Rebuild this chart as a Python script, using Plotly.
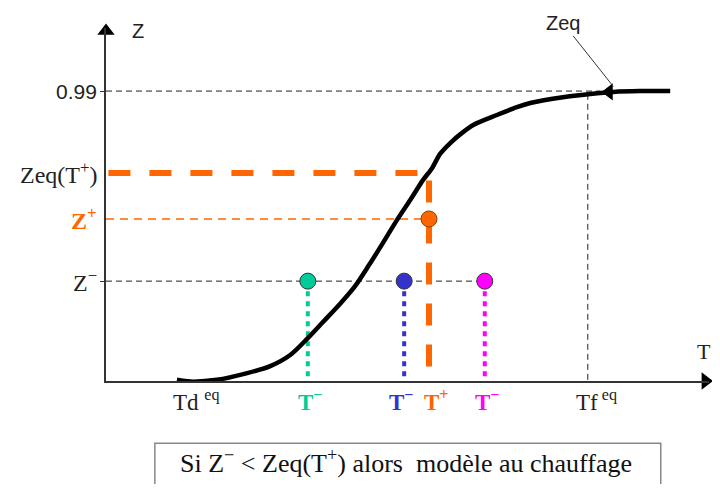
"""
    Schematic: equilibrium curve Zeq(T) and the heating-model criterion.
"""
import plotly.graph_objs as go

# equilibrium curve Zeq(T) (T in arbitrary units)
curve_t = [11.7, 13.9, 18.3, 23.3, 27.1, 30.4, 33.3, 35.8, 38.6, 41.1, 43.4, 45.7, 48.0,
           50.2, 52.3, 53.8, 55.1, 56.8, 58.7, 60.6, 64.5, 67.8, 70.0, 75.4, 79.9, 83.7, 88.1, 93.1]
curve_z = [0.0, -0.006, 0.0, 0.023, 0.047, 0.085, 0.143, 0.198, 0.260, 0.321, 0.393, 0.469, 0.547,
           0.616, 0.684, 0.725, 0.773, 0.811, 0.845, 0.873, 0.907, 0.934, 0.948, 0.968, 0.979,
           0.986, 0.989, 0.989]

# levels on the Z axis
z_levels = [0.989, 0.708, 0.551, 0.338]
z_labels = ['0.99', 'Zeq(T<sup>+</sup>)', '<b>Z<sup>+</sup></b>', 'Z<sup>&#8722;</sup>']

# positions on the T axis
t_ticks = [14.9, 33.8, 48.7, 54.5, 62.9, 81.0]
t_labels = ['Td <sup>eq</sup>', '<b>T<sup>&#8722;</sup></b>', '<b>T<sup>&#8722;</sup></b>',
            '<b>T<sup>+</sup></b>', '<b>T<sup>&#8722;</sup></b>', 'Tf<sup> eq</sup>']

t_eq_end = 79.5          # Tf eq
t_plus = 53.3
t_minus = [33.3, 49.2, 62.5]
minus_colors = ['#00CC99', '#3333CC', '#FF00FF']
orange = '#FF6600'
serif = 'Liberation Serif'
sans = 'Liberation Sans'

data = []

# 0.99 line and Tf eq vertical
data.append(go.Scatter(x=[0, t_eq_end + 2], y=[z_levels[0]] * 2, mode='lines',
                       line=dict(color='#222', width=1, dash='6px,4px')))
data.append(go.Scatter(x=[t_eq_end] * 2, y=[0, z_levels[0]], mode='lines',
                       line=dict(color='#222', width=1, dash='6px,4px')))

# Z- line
data.append(go.Scatter(x=[0, t_minus[2]], y=[z_levels[3]] * 2, mode='lines',
                       line=dict(color='#222', width=1, dash='6px,4px')))

# Z+ thin orange line
data.append(go.Scatter(x=[0, t_plus], y=[z_levels[2]] * 2, mode='lines',
                       line=dict(color=orange, width=1.5, dash='8px,6px')))

# Zeq(T+) thick orange L
data.append(go.Scatter(x=[0.4, t_plus, t_plus], y=[z_levels[1], z_levels[1], 0], mode='lines',
                       line=dict(color=orange, width=6, dash='22px,19px')))

# dotted verticals from Z- points
for t, c in zip(t_minus, minus_colors):
    data.append(go.Scatter(x=[t, t], y=[z_levels[3], 0], mode='lines',
                           line=dict(color=c, width=4, dash='5px,5px')))

# the curve
data.append(go.Scatter(x=curve_t, y=curve_z, mode='lines', line_shape='spline',
                       line=dict(color='black', width=4.5, smoothing=0.8)))

# points
data.append(go.Scatter(x=t_minus, y=[z_levels[3]] * 3, mode='markers',
                       marker=dict(size=16, color=minus_colors, line=dict(color='#333', width=1))))
data.append(go.Scatter(x=[t_plus], y=[z_levels[2]], mode='markers',
                       marker=dict(size=16, color=orange, line=dict(color='#884400', width=1))))

# arrow on the curve and axis arrows
data.append(go.Scatter(x=[83.0], y=[0.986], mode='markers', cliponaxis=False,
                       marker=dict(symbol='triangle-left', size=15, color='black')))
data.append(go.Scatter(x=[0, 98.9], y=[1.195, -0.004], mode='markers', cliponaxis=False,
                       marker=dict(symbol=['triangle-up', 'triangle-right'], size=15, color='black')))

annotations = []
for z, lab in zip(z_levels, z_labels):
    is_plus = 'Z<sup>+' in lab
    annotations.append(dict(x=0, y=z, xref='x', yref='y', text=lab, showarrow=False,
                            xanchor='right', xshift=-7,
                            font=dict(family=sans if lab == '0.99' else serif,
                                      size=21 if lab == '0.99' else 24,
                                      color=orange if is_plus else '#222')))

tick_colors = ['#222', minus_colors[0], minus_colors[1], orange, minus_colors[2], '#222']
for t, lab, c in zip(t_ticks, t_labels, tick_colors):
    annotations.append(dict(x=t, y=-0.004, xref='x', yref='y', text=lab, showarrow=False,
                            yanchor='top', yshift=-3,
                            font=dict(family=serif, size=23, color=c)))

annotations += [
    dict(x=0, y=1.195, xref='x', yref='y', text='Z', showarrow=False, xshift=32, yshift=0,
         font=dict(family=sans, size=20, color='#222')),
    dict(x=98.6, y=0, xref='x', yref='y', text='T', showarrow=False, yshift=28,
         font=dict(family=serif, size=22, color='#222')),
    dict(x=83.7, y=1.005, xref='x', yref='y', text='Zeq', showarrow=True, arrowhead=0,
         arrowwidth=1, arrowcolor='#333', ax=-50, ay=-63,
         font=dict(family=sans, size=20, color='#222')),
    dict(x=0.498, y=-0.229, xref='paper', yref='paper', showarrow=False,
         xanchor='center', yanchor='middle',
         text='Si Z<sup>&#8722;</sup> &lt; Zeq(T<sup>+</sup>) alors  modèle au chauffage',
         font=dict(family=serif, size=26, color='#111')),
]

shapes = [dict(type='rect', xref='paper', yref='paper', x0=0.081, x1=0.92, y0=-0.176, y1=-0.32,
               line=dict(color='#888', width=1.5))]

# the page body keeps its default 8px margin, so the figure is kept small enough not to overflow
layout = go.Layout(
    showlegend=False,
    autosize=False,
    width=704,
    height=476,
    margin=dict(l=98, r=3, t=20, b=103),
    paper_bgcolor='white',
    plot_bgcolor='white',
    xaxis=dict(range=[0, 99.5], showgrid=False, zeroline=False, showticklabels=False,
               showline=True, linecolor='#333', linewidth=1.5, ticks=''),
    yaxis=dict(range=[-0.004, 1.205], showgrid=False, zeroline=False, showticklabels=False,
               showline=True, linecolor='#333', linewidth=1.5,
               tickvals=[z_levels[0], z_levels[3]], ticks='outside', ticklen=4,
               tickcolor='#333'),
    annotations=annotations,
    shapes=shapes,
)

fig = go.Figure(data=data, layout=layout)
fig.write_html("out.html")
